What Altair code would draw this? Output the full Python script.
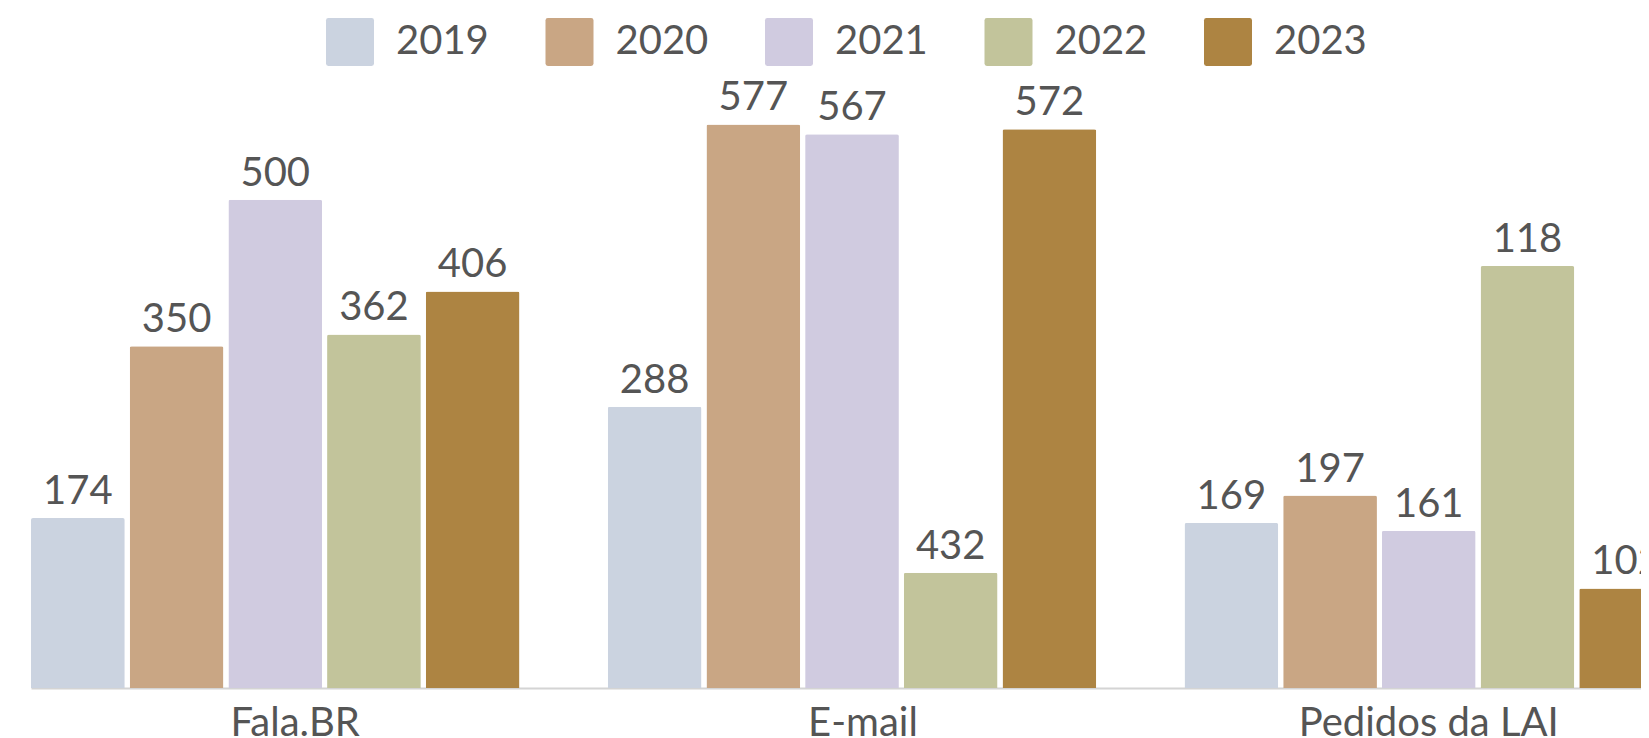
import altair as alt
import pandas as pd

categories = ["Fala.BR", "E-mail", "Pedidos da LAI"]
years = ["2019", "2020", "2021", "2022", "2023"]

# bar heights as drawn in the reference
bar_2019 = [174, 288, 169]
bar_2020 = [350, 577, 197]
bar_2021 = [500, 567, 161]
bar_2022 = [362, 118, 432]
bar_2023 = [406, 572, 102]

# value labels as printed in the reference
label_2019 = ["174", "288", "169"]
label_2020 = ["350", "577", "197"]
label_2021 = ["500", "567", "161"]
label_2022 = ["362", "432", "118"]
label_2023 = ["406", "572", "102"]

colors = ["#cbd3e0", "#c9a684", "#d0cbe0", "#c2c49b", "#ad8442"]

bars_by_year = [bar_2019, bar_2020, bar_2021, bar_2022, bar_2023]
labels_by_year = [label_2019, label_2020, label_2021, label_2022, label_2023]

rows = []
for yi, yr in enumerate(years):
    for ci, cat in enumerate(categories):
        rows.append({"category": cat, "year": yr,
                     "value": bars_by_year[yi][ci],
                     "label": labels_by_year[yi][ci]})
df = pd.DataFrame(rows)

rounded_square = ("M -0.9,-1 L 0.9,-1 Q 1,-1 1,-0.9 L 1,0.9 Q 1,1 0.9,1 "
                  "L -0.9,1 Q -1,1 -1,0.9 L -1,-0.9 Q -1,-1 -0.9,-1 Z")

label_shift = {
    "condition": [
        {"test": "datum.value === 'Fala.BR'", "value": 20},
        {"test": "datum.value === 'E-mail'", "value": 11},
    ],
    "value": 0,
}

base = alt.Chart(df).encode(
    x=alt.X("category:N", sort=categories,
            scale=alt.Scale(range=[0, 1642], paddingInner=0.153, paddingOuter=0),
            axis=alt.Axis(title=None, labelAngle=0, ticks=False, tickSize=0,
                          labelFontSize=40, labelFont="Lato", labelColor="#555555",
                          labelLimit=0, labelOffset=label_shift,
                          domainColor="#d4d4d4", domainWidth=2, labelPadding=15)),
    xOffset=alt.XOffset("year:N", sort=years,
                        scale=alt.Scale(paddingInner=0.05, paddingOuter=0)),
)

bars = base.mark_bar(cornerRadiusTopLeft=2, cornerRadiusTopRight=2).encode(
    y=alt.Y("value:Q", scale=alt.Scale(domain=[0, 600]), axis=None),
    color=alt.Color("year:N", scale=alt.Scale(domain=years, range=colors),
                    legend=alt.Legend(title=None, orient="none", legendX=295, legendY=-84,
                                      direction="horizontal", columns=5,
                                      symbolType=rounded_square, symbolSize=2304,
                                      symbolStrokeWidth=0, symbolOpacity=1,
                                      labelFontSize=40, labelFont="Lato",
                                      labelColor="#555555", labelOffset=22,
                                      columnPadding=56.5, padding=0)),
)

text = base.mark_text(baseline="alphabetic", dy=-14, fontSize=40, font="Lato",
                      color="#555555").encode(
    y=alt.Y("value:Q"),
    text="label:N",
)

chart = alt.layer(bars, text).properties(
    width=1610, height=586,
    autosize=alt.AutoSizeParams(type="none"),
    padding={"left": 23, "top": 94, "right": 0, "bottom": 50},
).configure_view(stroke=None)

chart.save("out.html", embed_options={"renderer": "svg", "actions": False})
